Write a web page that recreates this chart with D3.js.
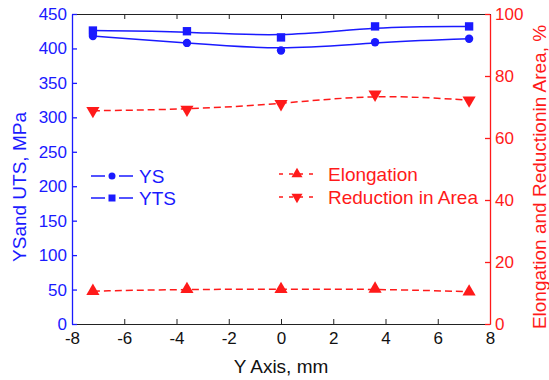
<!DOCTYPE html>
<html>
<head>
<meta charset="utf-8">
<script src="https://cdn.jsdelivr.net/npm/d3@7"></script>
<style>
  body { margin: 0; background: #fff; }
  svg { display: block; font-family: "Liberation Sans", Arial, sans-serif; }
</style>
</head>
<body>
<div id="chart"></div>
<script>
// data
const positions = [-7.2, -3.6, 0, 3.6, 7.2];
const ysValues = [418, 408, 397, 409, 414];
const ytsValues = [426, 425, 416, 432, 432];
const elongation = [10.6, 11.2, 11.2, 11.3, 10.4];
const reductionArea = [68.8, 69.2, 71.0, 74.1, 72.2];
const xTicks = [-8, -6, -4, -2, 0, 2, 4, 6, 8];
const leftTicks = [0, 50, 100, 150, 200, 250, 300, 350, 400, 450];
const rightTicks = [0, 20, 40, 60, 80, 100];

const width = 549, height = 380;
const margin = { top: 14, right: 59, bottom: 56, left: 72 };
const blue = '#1a1aff', red = '#ff1a1a';
const fmt = d => String(d); // plain hyphen minus like the original

const svg = d3.select('#chart').append('svg')
  .attr('width', width)
  .attr('height', height);

const x = d3.scaleLinear().domain([-8, 8]).range([margin.left, width - margin.right]);
const yL = d3.scaleLinear().domain([0, 450]).range([height - margin.bottom, margin.top]);
const yR = d3.scaleLinear().domain([0, 100]).range([height - margin.bottom, margin.top]);

const x0 = margin.left, x1 = width - margin.right;
const y0 = height - margin.bottom, y1 = margin.top;

// minor ticks
function minor(axis, scale, step) {
  const [a, b] = scale.domain();
  return axis.tickValues(d3.range(a, b + step / 2, step)).tickFormat('').tickSize(3);
}

// bottom axis
const gB = svg.append('g').attr('transform', `translate(0,${y0})`);
gB.call(minor(d3.axisBottom(x), x, 1).tickSizeInner(-3).tickSizeOuter(0));
gB.call(d3.axisBottom(x).tickValues(xTicks).tickFormat(fmt).tickSizeInner(-5).tickSizeOuter(0).tickPadding(8));
gB.selectAll('path, line').attr('stroke', '#222');
gB.selectAll('text').attr('fill', '#111').attr('font-size', 17);

// top axis
const gT = svg.append('g').attr('transform', `translate(0,${y1})`);
gT.call(minor(d3.axisTop(x), x, 1).tickSizeInner(-3).tickSizeOuter(0));
gT.call(d3.axisTop(x).tickValues(xTicks).tickSizeInner(-5).tickSizeOuter(0).tickFormat(''));
gT.selectAll('path, line').attr('stroke', '#222');

// left axis
const gL = svg.append('g').attr('transform', `translate(${x0},0)`);
gL.call(minor(d3.axisLeft(yL), yL, 25).tickSizeInner(-3).tickSizeOuter(0));
gL.call(d3.axisLeft(yL).tickValues(leftTicks).tickFormat(fmt).tickSizeInner(-5).tickSizeOuter(0).tickPadding(5));
gL.selectAll('path, line').attr('stroke', blue).attr('stroke-width', 1.3);
gL.selectAll('text').attr('fill', blue).attr('font-size', 17);

// right axis
const gR = svg.append('g').attr('transform', `translate(${x1},0)`);
gR.call(minor(d3.axisRight(yR), yR, 10).tickSizeInner(-3).tickSizeOuter(0));
gR.call(d3.axisRight(yR).tickValues(rightTicks).tickFormat(fmt).tickSizeInner(-5).tickSizeOuter(0).tickPadding(5));
gR.selectAll('path, line').attr('stroke', red).attr('stroke-width', 1.3);
gR.selectAll('text').attr('fill', red).attr('font-size', 17);
gL.select('.domain').raise();
gR.select('.domain').raise();

// axis titles
svg.append('text')
  .attr('x', (x0 + x1) / 2).attr('y', 373)
  .attr('text-anchor', 'middle').attr('font-size', 19).attr('fill', '#111')
  .text('Y Axis, mm');
svg.append('text')
  .attr('transform', `translate(26,${(y0 + y1) / 2 + 18}) rotate(-90)`)
  .attr('text-anchor', 'middle').attr('font-size', 19).attr('fill', blue)
  .text('YSand UTS, MPa');
svg.append('text')
  .attr('transform', `translate(546,${(y0 + y1) / 2 + 8}) rotate(-90)`)
  .attr('text-anchor', 'middle').attr('font-size', 19).attr('fill', red)
  .text('Elongation and Reductionin Area, %');

// series
const series = [
  { name: 'YS', values: ysValues, y: yL, color: blue, dash: null, symbol: d3.symbolCircle, size: 55 },
  { name: 'YTS', values: ytsValues, y: yL, color: blue, dash: null, symbol: d3.symbolSquare, size: 70 },
  { name: 'Elongation', values: elongation, y: yR, color: red, dash: '7,4', symbol: d3.symbolTriangle, size: 75, rot: 0 },
  { name: 'Reduction in Area', values: reductionArea, y: yR, color: red, dash: '7,4', symbol: d3.symbolTriangle, size: 75, rot: 180 }
];

series.forEach(s => {
  const line = d3.line()
    .x((d, i) => x(positions[i]))
    .y(d => s.y(d))
    .curve(d3.curveBasis);
  svg.append('path')
    .datum(s.values)
    .attr('d', line)
    .attr('fill', 'none')
    .attr('stroke', s.color)
    .attr('stroke-width', 1.5)
    .attr('stroke-dasharray', s.dash);
  svg.selectAll(null)
    .data(s.values)
    .enter()
    .append('path')
    .attr('d', d3.symbol().type(s.symbol).size(s.size))
    .attr('transform', (d, i) => `translate(${x(positions[i])},${s.y(d)}) rotate(${s.rot || 0})`)
    .attr('fill', s.color);
});

// legends
const legendItems = [
  { s: series[0], lx: 91, ly: 176 },
  { s: series[1], lx: 91, ly: 198 },
  { s: series[2], lx: 279, ly: 174 },
  { s: series[3], lx: 279, ly: 197 }
];
legendItems.forEach(({ s, lx, ly }) => {
  const g = svg.append('g').attr('transform', `translate(${lx},${ly})`);
  const w = s.dash ? 36 : 42;
  g.append('line')
    .attr('x1', 0).attr('x2', w).attr('y1', 0).attr('y2', 0)
    .attr('stroke', s.color).attr('stroke-width', 1.5)
    .attr('stroke-dasharray', s.dash ? '4,6' : null);
  if (!s.dash) {
    g.append('rect').attr('x', w / 2 - 7).attr('y', -3).attr('width', 14).attr('height', 6).attr('fill', '#fff');
  }
  g.append('path')
    .attr('d', d3.symbol().type(s.symbol).size(s.size * 0.7))
    .attr('transform', `translate(${w / 2},0) rotate(${s.rot || 0})`)
    .attr('fill', s.color);
  g.append('text')
    .attr('x', s.dash ? 49 : 48).attr('y', 7)
    .attr('font-size', 19).attr('fill', s.color)
    .text(s.name);
});
</script>
</body>
</html>
